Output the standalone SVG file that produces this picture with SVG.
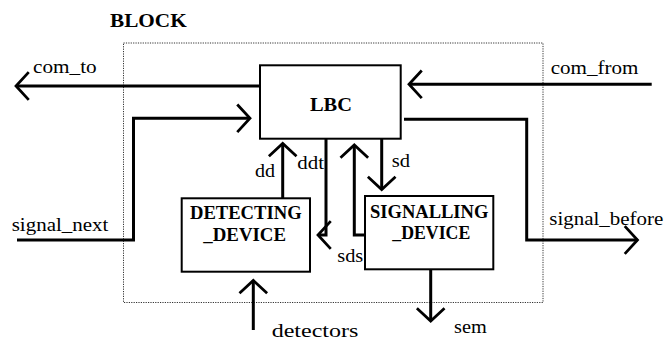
<svg xmlns="http://www.w3.org/2000/svg" width="667" height="343" viewBox="0 0 667 343">
<defs>
<style>
text{font-family:'Liberation Serif','Times New Roman',Times,'DejaVu Serif',serif}
.lbl{font-size:19px;fill:#000}
.bold{font-size:18.5px;font-weight:bold;fill:#000}
.box{fill:#fff;stroke:#000;stroke-width:2}
.conn{fill:none;stroke:#000;stroke-width:3}
.border{fill:none;stroke:#333;stroke-width:1;stroke-dasharray:1.2 1.2}
</style>
<marker id="arr" markerUnits="userSpaceOnUse" markerWidth="30" markerHeight="34" viewBox="-16 -16 20 32" refX="0" refY="0" orient="auto">
<path d="M-12,-13 L0,0 L-12,13" fill="none" stroke="#000" stroke-width="2.6"/>
</marker>
</defs>
<rect width="667" height="343" fill="#fff"/>
<g id="block">
<rect class="border" x="123.5" y="43" width="419.5" height="259.5"/>
<text class="bold" x="110" y="27.3" textLength="76.7" lengthAdjust="spacingAndGlyphs">BLOCK</text>
</g>
<g id="connectors">
<path class="conn" d="M260,86 H16" marker-end="url(#arr)"/>
<path class="conn" d="M651.7,84.3 H409" marker-end="url(#arr)"/>
<path class="conn" d="M17,240 H133.5 V118.3 H250" marker-end="url(#arr)"/>
<path class="conn" d="M404,119.3 H526.7 V240 H637.5" marker-end="url(#arr)"/>
<path class="conn" d="M282.7,198.3 V143.5" marker-end="url(#arr)"/>
<path class="conn" d="M326,139 V235 H318" marker-end="url(#arr)"/>
<path class="conn" d="M365,235 H354.3 V145" marker-end="url(#arr)"/>
<path class="conn" d="M381.7,139 V189.5" marker-end="url(#arr)"/>
<path class="conn" d="M430.7,269.3 V321" marker-end="url(#arr)"/>
<path class="conn" d="M253.3,330 V280.5" marker-end="url(#arr)"/>
<text class="lbl" x="33" y="72.7" textLength="63.7" lengthAdjust="spacingAndGlyphs">com_to</text>
<text class="lbl" x="550.7" y="74" textLength="87.7" lengthAdjust="spacingAndGlyphs">com_from</text>
<text class="lbl" x="11.7" y="231" textLength="96.7" lengthAdjust="spacingAndGlyphs">signal_next</text>
<text class="lbl" x="549.3" y="225" textLength="114" lengthAdjust="spacingAndGlyphs">signal_before</text>
<text class="lbl" x="255" y="176.7" textLength="20" lengthAdjust="spacingAndGlyphs">dd</text>
<text class="lbl" x="297.3" y="169.3" textLength="26.7" lengthAdjust="spacingAndGlyphs">ddt</text>
<text class="lbl" x="391.7" y="166.7" textLength="18.3" lengthAdjust="spacingAndGlyphs">sd</text>
<text class="lbl" x="337.3" y="261.7" textLength="26" lengthAdjust="spacingAndGlyphs">sds</text>
<text class="lbl" x="454" y="333.3" textLength="32.7" lengthAdjust="spacingAndGlyphs">sem</text>
<text class="lbl" x="271.7" y="337" textLength="86.7" lengthAdjust="spacingAndGlyphs">detectors</text>
</g>
<g id="lbc">
<rect class="box" x="260" y="65.3" width="140.7" height="73.4"/>
<text class="bold" x="310" y="110.7" textLength="42" lengthAdjust="spacingAndGlyphs">LBC</text>
</g>
<g id="detecting_device">
<rect class="box" x="181.7" y="198.3" width="128.3" height="73.4"/>
<text class="bold" x="245.8" y="219.3" text-anchor="middle" textLength="111.7" lengthAdjust="spacingAndGlyphs">DETECTING</text>
<text class="bold" x="244.7" y="240.7" text-anchor="middle" textLength="82.7" lengthAdjust="spacingAndGlyphs">_DEVICE</text>
</g>
<g id="signalling_device">
<rect class="box" x="365" y="196" width="128.3" height="73.3"/>
<text class="bold" x="429.2" y="218.3" text-anchor="middle" textLength="118.3" lengthAdjust="spacingAndGlyphs">SIGNALLING</text>
<text class="bold" x="431.3" y="239.3" text-anchor="middle" textLength="78" lengthAdjust="spacingAndGlyphs">_DEVICE</text>
</g>
</svg>
